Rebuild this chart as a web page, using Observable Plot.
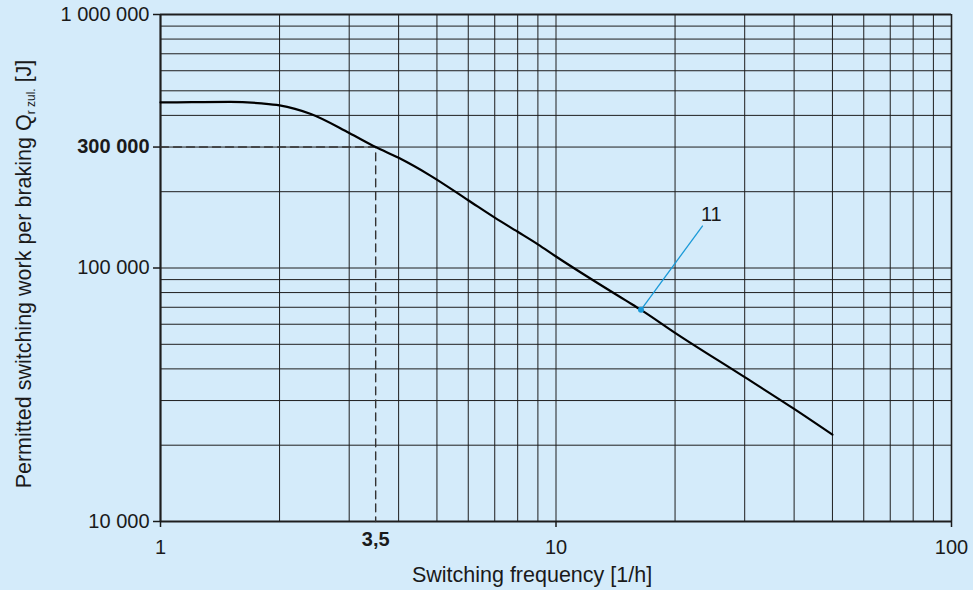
<!DOCTYPE html>
<html><head><meta charset="utf-8">
<script src="https://cdn.jsdelivr.net/npm/d3@7"></script>
<script src="https://cdn.jsdelivr.net/npm/@observablehq/plot@0.6"></script>
<style>
html,body{margin:0;padding:0;background:#d4ebfa;}
svg{display:block;}
</style></head><body><div id="chart"></div>
<script>
// Curve 11: permitted switching work vs switching frequency
const freq = [1, 1.2, 1.5, 1.8, 2, 2.4, 3, 3.5, 4, 4.8, 6, 7, 8, 9, 10, 15, 16.4, 20, 30, 40, 50];
const work = [450000, 451000, 452000, 446000, 438000, 405000, 341000, 300000, 272000, 232000, 185000, 158000, 139000, 124000, 111000, 74500, 68400, 55500, 37100, 27800, 22000];

const xTicks = [1, 10, 100];
const xTickLabels = ["1", "10", "100"];
const yTicks = [10000, 100000, 1000000];
const yTickLabels = ["10 000", "100 000", "1 000 000"];

const xGrid = [2, 3, 4, 5, 6, 7, 8, 9, 10, 20, 30, 40, 50, 60, 70, 80, 90];
const yGrid = [20000, 30000, 40000, 50000, 60000, 70000, 80000, 90000, 100000,
               200000, 300000, 400000, 500000, 600000, 700000, 800000, 900000];

const refFreq = [3.5];
const refFreqLabel = ["3,5"];
const refWork = [300000];
const refWorkLabel = ["300 000"];

const seriesName = "11";
const leaderFrom = [16.4, 68400];
const leaderTo = [23.5, 147000];
const leaderLabelAt = [24.7, 162000];

const xTitle = "Switching frequency [1/h]";

const data = freq.map((f, i) => ({f, w: work[i]}));
const dashPath = [
  {f: 1, w: refWork[0]},
  {f: refFreq[0], w: refWork[0]},
  {f: refFreq[0], w: 10000}
];
const leader = [{x1: leaderFrom[0], y1: leaderFrom[1], x2: leaderTo[0], y2: leaderTo[1]}];

const grid = "#1e1e1e";
const blue = "#1a9ad8";
const font = "'Liberation Sans', Arial, Helvetica, sans-serif";

const chart = Plot.plot({
  width: 973,
  height: 590,
  marginTop: 14,
  marginBottom: 69,
  marginLeft: 160,
  marginRight: 22,
  style: {background: "#d4ebfa", fontFamily: font, color: "#1a1a1a", overflow: "visible"},
  x: {type: "log", domain: [1, 100]},
  y: {type: "log", domain: [10000, 1000000]},
  marks: [
    Plot.ruleX(xGrid, {stroke: grid, strokeWidth: 1}),
    Plot.ruleY(yGrid, {stroke: grid, strokeWidth: 1}),
    Plot.ruleX([1], {stroke: grid, strokeWidth: 2.2}),
    Plot.ruleX([100], {stroke: grid, strokeWidth: 1.6}),
    Plot.ruleY([10000], {stroke: grid, strokeWidth: 2}),
    Plot.ruleY([1000000], {stroke: grid, strokeWidth: 2}),
    Plot.line(dashPath, {x: "f", y: "w", stroke: "#333", strokeWidth: 1.4, strokeDasharray: "8,5"}),
    Plot.axisY(yTicks, {tickSize: 7, tickPadding: 4, fontSize: 20, label: null, strokeWidth: 1.5,
      tickFormat: (d) => yTickLabels[yTicks.indexOf(d)]}),
    Plot.axisY(refWork, {tickSize: 7, tickPadding: 4, fontSize: 20, fontWeight: "bold", label: null, strokeWidth: 1.5,
      tickFormat: (d) => refWorkLabel[refWork.indexOf(d)]}),
    Plot.axisX(xTicks, {tickSize: 6, tickPadding: 12, fontSize: 20, label: null, strokeWidth: 1.5,
      tickFormat: (d) => xTickLabels[xTicks.indexOf(d)]}),
    Plot.axisX(refFreq, {tickSize: 0, tickPadding: 10, fontSize: 20, fontWeight: "bold", label: null,
      tickFormat: (d) => refFreqLabel[refFreq.indexOf(d)]}),
    Plot.line(data, {x: "f", y: "w", stroke: "#000", strokeWidth: 2.2, curve: "monotone-x"}),
    Plot.link(leader, {x1: "x1", y1: "y1", x2: "x2", y2: "y2", stroke: blue, strokeWidth: 1.3}),
    Plot.dot([leaderFrom], {x: d => d[0], y: d => d[1], r: 3, fill: blue}),
    Plot.text([seriesName], {x: leaderLabelAt[0], y: leaderLabelAt[1], fontSize: 20, fill: "#1a1a1a"}),
    Plot.text([xTitle], {frameAnchor: "bottom", dx: -24, dy: 60, fontSize: 21.5, fill: "#1a1a1a", lineAnchor: "bottom"})
  ]
});

document.getElementById("chart").appendChild(chart);

// Y-axis title with subscript
const svg = d3.select(chart);
const yt = svg.append("text")
  .attr("transform", "translate(31,274) rotate(-90)")
  .attr("text-anchor", "middle")
  .attr("font-size", 21.5)
  .attr("fill", "#1a1a1a")
  .attr("font-family", font);
yt.append("tspan").text("Permitted switching work per braking Q");
yt.append("tspan").attr("font-size", 12).attr("dy", 4).text("r zul.");
yt.append("tspan").attr("dy", -4).text(" [J]");
</script>
</body></html>
